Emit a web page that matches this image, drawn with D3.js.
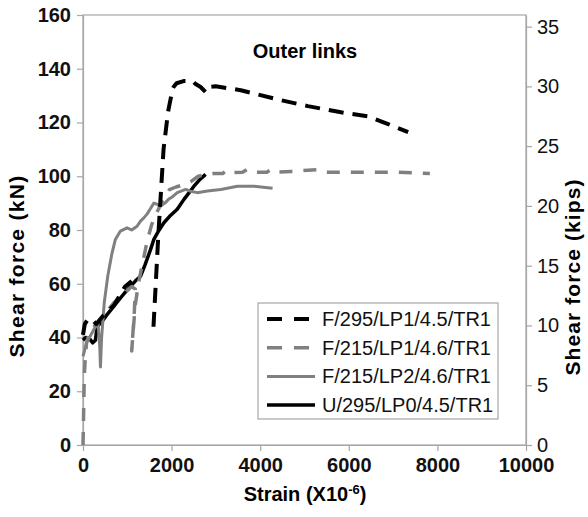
<!DOCTYPE html>
<html>
<head>
<meta charset="utf-8">
<script src="https://cdn.jsdelivr.net/npm/d3@7"></script>
<style>
  body { margin: 0; background: #fff; }
  svg { display: block; font-family: "Liberation Sans", Arial, sans-serif; }
</style>
</head>
<body>
<svg id="chart"></svg>
<script>
const WIDTH = 588;
const HEIGHT = 517;
const KN_PER_KIP = 4.448;

const X_TICKS = [0, 2000, 4000, 6000, 8000, 10000];
const Y_TICKS = [0, 20, 40, 60, 80, 100, 120, 140, 160];
const Y2_TICKS = [0, 5, 10, 15, 20, 25, 30, 35];

const SERIES_NAMES = ["F/295/LP1/4.5/TR1", "F/215/LP1/4.6/TR1", "F/215/LP2/4.6/TR1", "U/295/LP0/4.5/TR1"];

// [strain (x10^-6), shear force (kN)], null = break in the line
const F295_LP1 = [
    [0, 41], [40, 45], [120, 47], [220, 46.5], [300, 45], [450, 48], [700, 52], [950, 59], [1100, 61], null,
    [1591, 44], [1700, 78], [1818, 110], [1920, 124], [2021, 132.4], [2044, 133.2], [2112, 134.6],
    [2270, 135.4], [2474, 135.4], [2542, 134.3], [2655, 133.2], [2768, 131.3], [2836, 133.2],
    [2995, 133.5], [3561, 132], [4466, 128.3], [5077, 126.1], [5824, 123.8], [6435, 122.3],
    [6888, 119.4], [7340, 116.4]
];
const F215_LP1 = [
    [0, 0], [10, 8], [20, 18], [30, 26], [50, 32], [80, 38], [150, 42], [300, 45], [500, 49],
    [700, 53], [900, 56], [1100, 59], [1180, 58], [1160, 50], [1120, 40], [1100, 35], [1130, 42],
    [1180, 52], [1250, 60], [1350, 68], [1450, 76], [1550, 82], [1650, 86], [1800, 91], [1950, 95],
    [2100, 96], [2300, 97], [2435, 98], [2600, 100], [2750, 100.5], [2950, 101], [3150, 101],
    [3250, 102.3], [3350, 101.3], [3600, 101.5], [3700, 102.5], [3800, 101.5], [4150, 101.5],
    [4250, 102.5], [4350, 101.5], [4700, 101.8], [5300, 102.5], [5450, 101.5], [6000, 101.5],
    [6500, 101.5], [7000, 101.5], [7500, 101.3], [7830, 101]
];
const F215_LP2 = [
    [0, 33], [80, 38], [180, 41], [280, 44], [340, 45], [380, 36], [394, 29], [420, 40], [480, 53],
    [560, 63], [650, 71], [731, 76.5], [845, 79.6], [994, 80.8], [1100, 80], [1220, 81.4],
    [1298, 83.3], [1373, 84.5], [1450, 86], [1524, 88], [1600, 90], [1680, 89.5], [1750, 88.9],
    [1850, 90], [1930, 91.4], [2030, 92.5], [2127, 93.9], [2317, 95.1], [2450, 94.3], [2580, 93.9],
    [2808, 94.5], [3110, 95.1], [3487, 96.3], [3865, 96.3], [4280, 95.5]
];
const U295_LP0 = [
    [0, 39], [60, 40], [150, 39.5], [220, 38], [280, 39], [318, 44], [430, 46], [543, 48.5],
    [694, 51.6], [845, 54.7], [960, 57], [1071, 59], [1180, 61], [1298, 62.8], [1400, 67],
    [1524, 72.7], [1600, 76.5], [1700, 79.5], [1826, 82.7], [1950, 85], [2127, 87.7], [2279, 91.4],
    [2400, 94], [2505, 96.3], [2620, 98.5], [2768, 100.7]
];

const SERIES = [
    {name: SERIES_NAMES[0], data: F295_LP1, color: "#000", width: 4, dash: "15,9"},
    {name: SERIES_NAMES[1], data: F215_LP1, color: "#808080", width: 3.5, dash: "13,11"},
    {name: SERIES_NAMES[2], data: F215_LP2, color: "#808080", width: 3, dash: null},
    {name: SERIES_NAMES[3], data: U295_LP0, color: "#000", width: 3.5, dash: null}
];

const margin = {top: 15, right: 62, bottom: 72, left: 83};

const svg = d3.select("#chart").attr("width", WIDTH).attr("height", HEIGHT);

const x = d3.scaleLinear().domain([0, 10000]).range([margin.left, WIDTH - margin.right]);
const y = d3.scaleLinear().domain([0, 160]).range([HEIGHT - margin.bottom, margin.top]);
const y2 = d3.scaleLinear().domain([0, 160 / KN_PER_KIP]).range(y.range());

// plot frame
svg.append("rect")
    .attr("x", x(0)).attr("y", y(160))
    .attr("width", x(10000) - x(0)).attr("height", y(0) - y(160))
    .attr("fill", "none").attr("stroke", "#a6a6a6").attr("stroke-width", 1.2);

function styleAxis(g, bold) {
    g.select(".domain").attr("stroke", "#a6a6a6").attr("stroke-width", 1.2);
    g.selectAll(".tick line").attr("stroke", "#a6a6a6").attr("stroke-width", 1.2);
    g.selectAll(".tick text")
        .attr("fill", "#111")
        .style("font-size", "20px")
        .style("font-weight", bold ? "bold" : "normal")
        .style("font-family", "'Liberation Sans', Arial, sans-serif");
}

svg.append("g")
    .attr("transform", `translate(0,${y(0)})`)
    .call(d3.axisBottom(x).tickValues(X_TICKS).tickFormat(d3.format("d")).tickSize(6).tickPadding(7).tickSizeOuter(0))
    .call(g => styleAxis(g, true));

svg.append("g")
    .attr("transform", `translate(${x(0)},0)`)
    .call(d3.axisLeft(y).tickValues(Y_TICKS).tickSize(6).tickPadding(6).tickSizeOuter(0))
    .call(g => styleAxis(g, true));

svg.append("g")
    .attr("transform", `translate(${x(10000)},0)`)
    .call(d3.axisRight(y2).tickValues(Y2_TICKS).tickSize(6).tickPadding(5).tickSizeOuter(0))
    .call(g => styleAxis(g, false));

// curves
const line = d3.line()
    .defined(d => d !== null)
    .x(d => x(d[0]))
    .y(d => y(d[1]));

svg.append("g").selectAll("path")
    .data(SERIES.slice().reverse())
    .join("path")
    .attr("d", d => line(d.data))
    .attr("fill", "none")
    .attr("stroke", d => d.color)
    .attr("stroke-width", d => d.width)
    .attr("stroke-dasharray", d => d.dash)
    .attr("stroke-linejoin", "round");

// titles
svg.append("text")
    .attr("x", 305).attr("y", 58)
    .attr("text-anchor", "middle")
    .style("font-size", "20px").style("font-weight", "bold")
    .text("Outer links");

const xTitle = svg.append("text")
    .attr("x", 305).attr("y", 501)
    .attr("text-anchor", "middle")
    .style("font-size", "20px").style("font-weight", "bold");
xTitle.append("tspan").text("Strain (X10");
xTitle.append("tspan").attr("dy", -7).style("font-size", "13px").text("-6");
xTitle.append("tspan").attr("dy", 7).text(")");

svg.append("text")
    .attr("transform", "translate(24,266) rotate(-90)")
    .attr("text-anchor", "middle")
    .style("font-size", "21px").style("font-weight", "bold").style("letter-spacing", "1.3px")
    .text("Shear force (kN)");

svg.append("text")
    .attr("transform", "translate(580,277) rotate(-90)")
    .attr("text-anchor", "middle")
    .style("font-size", "21px").style("font-weight", "bold").style("letter-spacing", "1.1px")
    .text("Shear force (kips)");

// legend
const legend = svg.append("g").attr("transform", "translate(258,303)");
legend.append("rect")
    .attr("width", 240).attr("height", 116)
    .attr("fill", "#fff").attr("stroke", "#a6a6a6").attr("stroke-width", 1.2);

const rows = legend.selectAll("g.row")
    .data(SERIES)
    .join("g")
    .attr("class", "row")
    .attr("transform", (d, i) => `translate(0,${16 + i * 28.7})`);

rows.append("line")
    .attr("x1", 9).attr("x2", d => d.dash ? 51 : 57)
    .attr("stroke", d => d.color)
    .attr("stroke-width", d => d.width)
    .attr("stroke-dasharray", d => d.dash ? "15,12" : null);

rows.append("text")
    .attr("x", 64).attr("dy", "0.35em")
    .attr("fill", "#111")
    .style("font-size", "20px")
    .text(d => d.name);
</script>
</body>
</html>
